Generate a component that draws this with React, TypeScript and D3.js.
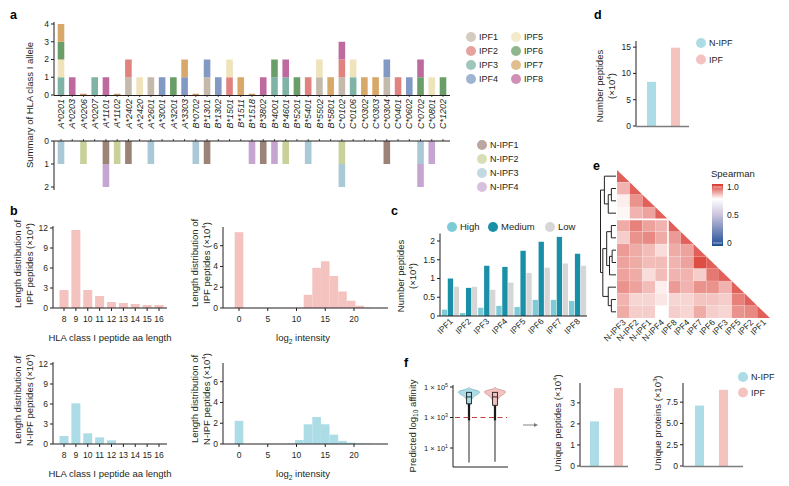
import * as React from "react";
import * as d3 from "d3";

const W = 789;
const H = 486;
const FONT = "'Liberation Sans', Arial, Helvetica, sans-serif";
const INK = "#231f20";

// ---------- panel a ----------
const alleles = [
  "A*0201", "A*0203", "A*0206", "A*0207", "A*1101", "A*1102", "A*2402", "A*2420", "A*2601",
  "A*3001", "A*3201", "A*3303", "B*0702", "B*1301", "B*1302", "B*1501", "B*1511", "B*1518",
  "B*3802", "B*4001", "B*4601", "B*5201", "B*5401", "B*5502", "B*5801", "C*0102", "C*0106",
  "C*0302", "C*0303", "C*0304", "C*0401", "C*0602", "C*0702", "C*0801", "C*1202",
];
const ipfNames = ["IPF1", "IPF2", "IPF3", "IPF4", "IPF5", "IPF6", "IPF7", "IPF8"];
const ipfColors = ["#c4baab", "#e0837e", "#7fb3a6", "#8299c4", "#efe3bb", "#6a9e68", "#d8a868", "#bf6a9e"];
const nipfNames = ["N-IPF1", "N-IPF2", "N-IPF3", "N-IPF4"];
const nipfColors = ["#9c8378", "#c8d199", "#a9c9d6", "#c6a6d0"];

// samples carrying each allele, stacked from the axis outward
const ipfHits: string[][] = [
  ["IPF3", "IPF5", "IPF6", "IPF7"], ["IPF8"], [], ["IPF3"], ["IPF8"], [], ["IPF1", "IPF2"],
  ["IPF5"], ["IPF1"], ["IPF4"], ["IPF6"], ["IPF4", "IPF7"], [], ["IPF1", "IPF4"], ["IPF4"],
  ["IPF2", "IPF5"], ["IPF7"], [], ["IPF8"], ["IPF3", "IPF6"], ["IPF3", "IPF8"], ["IPF6"],
  ["IPF2"], ["IPF1", "IPF5"], ["IPF7"], ["IPF1", "IPF2", "IPF8"], ["IPF3", "IPF5"], ["IPF7"],
  ["IPF7"], ["IPF1", "IPF4"], ["IPF2"], ["IPF4"], ["IPF6", "IPF8"], ["IPF5"], ["IPF6"],
];
const nipfHits: string[][] = [
  ["N-IPF3"], [], ["N-IPF2"], [], ["N-IPF1", "N-IPF4"], ["N-IPF2"], ["N-IPF1"], [], ["N-IPF3"],
  [], [], [], ["N-IPF3"], ["N-IPF1"], [], [], [], ["N-IPF4"], ["N-IPF1"], ["N-IPF4"], ["N-IPF2"],
  [], ["N-IPF3"], [], [], ["N-IPF2", "N-IPF3"], [], [], [], ["N-IPF1"], [], [], ["N-IPF3", "N-IPF4"],
  ["N-IPF4"], [],
];

// ---------- panel b ----------
const peptideLengths = ["8", "9", "10", "11", "12", "13", "14", "15", "16"];
const ipfLengthDist = [2.7, 11.7, 2.7, 1.8, 0.9, 0.75, 0.6, 0.45, 0.45];
const nipfLengthDist = [1.2, 6.1, 1.6, 1.0, 0.55, 0.04, 0.03, 0.02, 0.02];
const intensityBins = [0, 9, 10.5, 12, 13.5, 15, 16.5, 18, 19.5, 21, 22.5];
const ipfIntensity = [7.3, 0, 0.03, 1.27, 3.87, 4.5, 3.08, 1.59, 0.7, 0.22, 0.03];
const nipfIntensity = [2.23, 0.03, 0.39, 1.9, 2.6, 1.9, 0.9, 0.3, 0.13, 0.05, 0.03];
const IPF_PINK = "#f4c3bf";
const NIPF_BLUE = "#acdde6";

// ---------- panel c ----------
const affinityLevels = ["High", "Medium", "Low"];
const affinityColors = ["#7dcbd6", "#1a8fa8", "#d6d6d6"];
const highPeptides = [0.17, 0.08, 0.22, 0.27, 0.24, 0.43, 0.43, 0.4];
const mediumPeptides = [1.0, 0.75, 1.34, 1.31, 1.74, 1.98, 2.11, 1.66];
const lowPeptides = [0.78, 0.78, 0.7, 0.89, 1.15, 1.29, 1.4, 1.34];

// ---------- panel d / f ----------
const groups = ["N-IPF", "IPF"];
const groupColors = [NIPF_BLUE, IPF_PINK];
const totalPeptides = [8.4, 14.9];
const uniquePeptides = [2.12, 3.7];
const uniqueProteins = [7.1, 8.95];

// violin shape: log10 affinity vs relative width
const violinLogs = [4.95, 4.88, 4.8, 4.72, 4.62, 4.5, 4.4, 4.3, 4.2, 4.1, 4.0, 3.9, 3.8, 3.7, 3.6, 3.5, 3.3, 3.0];
const nipfViolin = [0.05, 0.12, 0.55, 0.95, 1.0, 0.72, 0.48, 0.34, 0.25, 0.18, 0.13, 0.1, 0.08, 0.06, 0.05, 0.04, 0.03, 0.02];
const ipfViolin = [0.06, 0.14, 0.6, 1.0, 0.95, 0.7, 0.5, 0.36, 0.27, 0.2, 0.15, 0.11, 0.09, 0.07, 0.05, 0.04, 0.03, 0.02];
// [min, q1, median, q3, end of the dense lower tail]
const nipfBox = [0.05, 3.9, 4.35, 4.65, 2.8];
const ipfBox = [0.1, 3.8, 4.35, 4.65, 2.8];

// ---------- panel e ----------
const heatLabels = ["N-IPF3", "N-IPF2", "N-IPF1", "N-IPF4", "IPF8", "IPF4", "IPF7", "IPF6", "IPF3", "IPF5", "IPF2", "IPF1"];
const heatLower: number[][] = [
  [],
  [0.85],
  [0.78, 0.89],
  [0.77, 0.85, 0.87],
  [0.86, 0.91, 0.87, 0.85],
  [0.82, 0.89, 0.9, 0.86, 0.88],
  [0.88, 0.86, 0.84, 0.8, 0.86, 0.87],
  [0.87, 0.86, 0.84, 0.84, 0.85, 0.87, 0.97],
  [0.87, 0.86, 0.8, 0.84, 0.85, 0.85, 0.82, 0.92],
  [0.89, 0.87, 0.84, 0.78, 0.88, 0.85, 0.89, 0.89, 0.85],
  [0.85, 0.81, 0.81, 0.79, 0.81, 0.81, 0.83, 0.83, 0.82, 0.91],
  [0.86, 0.82, 0.82, 0.76, 0.82, 0.81, 0.86, 0.82, 0.81, 0.89, 0.9],
];
type Dn = { name?: string; h: number; children?: Dn[] };
const dendrogram: Dn = {
  h: 1,
  children: [
    {
      h: 0.75,
      children: [
        { name: "N-IPF3", h: 0 },
        { h: 0.5, children: [{ h: 0.3, children: [{ name: "N-IPF2", h: 0 }, { name: "N-IPF1", h: 0 }] }, { name: "N-IPF4", h: 0 }] },
      ],
    },
    {
      h: 0.85,
      children: [
        {
          h: 0.6,
          children: [
            { h: 0.3, children: [{ name: "IPF8", h: 0 }, { name: "IPF4", h: 0 }] },
            { h: 0.42, children: [{ h: 0.25, children: [{ name: "IPF7", h: 0 }, { name: "IPF6", h: 0 }] }, { name: "IPF3", h: 0 }] },
          ],
        },
        { h: 0.5, children: [{ name: "IPF5", h: 0 }, { h: 0.3, children: [{ name: "IPF2", h: 0 }, { name: "IPF1", h: 0 }] }] },
      ],
    },
  ],
};
const spearmanStops = [0, 0.5, 0.76, 1];
const spearmanColors = ["#1f4e96", "#cbc3dd", "#ffffff", "#d8352a"];

// ---------- helpers ----------
function Label({ x, y, children }: { x: number; y: number; children: React.ReactNode }) {
  return (
    <text x={x} y={y} fontSize={12.5} fontWeight="bold" fill="#000">
      {children}
    </text>
  );
}

function VText({ x, y, children, size = 9.5 }: { x: number; y: number; children: React.ReactNode; size?: number }) {
  return (
    <text transform={`translate(${x},${y}) rotate(-90)`} textAnchor="middle" fontSize={size} fill={INK}>
      {children}
    </text>
  );
}

// "(×10" + superscript + ")"
function Power({ pre, exp, post }: { pre: string; exp: string; post: string }) {
  return (
    <>
      {pre}
      <tspan dy={-3.5} fontSize="65%">{exp}</tspan>
      <tspan dy={3.5}>{post}</tspan>
    </>
  );
}

function YAxis({
  x, scale, ticks, format = (v: number) => String(v), y0, y1,
}: {
  x: number; scale: d3.ScaleContinuousNumeric<number, number>; ticks: number[];
  format?: (v: number) => string; y0?: number; y1?: number;
}) {
  const [r0, r1] = scale.range();
  return (
    <g>
      <line x1={x} x2={x} y1={y0 ?? r0} y2={y1 ?? r1} stroke={INK} strokeWidth={1} />
      {ticks.map((t) => (
        <g key={t} transform={`translate(${x},${scale(t)})`}>
          <line x1={-3} x2={0} stroke={INK} />
          <text x={-5} dy="0.33em" textAnchor="end" fontSize={8.5} fill={INK}>
            {format(t)}
          </text>
        </g>
      ))}
    </g>
  );
}

function PairBars({
  x0, x1, centers, scale, values, ticks, format, axisX, barW = 9,
}: {
  x0: number; x1: number; centers: [number, number]; scale: d3.ScaleLinear<number, number>;
  values: number[]; ticks: number[]; format?: (v: number) => string; axisX: number; barW?: number;
}) {
  const xs = d3.scalePoint<string>().domain(groups).range(centers);
  const base = scale(0);
  return (
    <g>
      {groups.map((g, i) => (
        <rect key={g} x={(xs(g) ?? 0) - barW / 2} y={scale(values[i])} width={barW} height={base - scale(values[i])} fill={groupColors[i]} />
      ))}
      <YAxis x={axisX} scale={scale} ticks={ticks} format={format} y1={scale.range()[1] - 3} />
      <line x1={x0} x2={x1} y1={base + 0.5} y2={base + 0.5} stroke="#7d7d7d" strokeWidth={1.6} />
    </g>
  );
}

function GroupLegend({ x, y, gap }: { x: number; y: number; gap: number }) {
  return (
    <g>
      {groups.map((g, i) => (
        <g key={g} transform={`translate(${x},${y + i * gap})`}>
          <circle r={5} fill={groupColors[i]} />
          <text x={8} dy="0.35em" fontSize={9} fill={INK}>{g}</text>
        </g>
      ))}
    </g>
  );
}

// ---------- panel a ----------
function PanelA() {
  const x = d3.scalePoint<string>().domain(alleles).range([61, 443]);
  const yTop = d3.scaleLinear().domain([0, 4]).range([95, 24]);
  const yBot = d3.scaleLinear().domain([0, 2]).range([141, 187]);
  const bw = 6.6;
  const colorOf = (n: string) => {
    const i = ipfNames.indexOf(n);
    return i >= 0 ? ipfColors[i] : nipfColors[nipfNames.indexOf(n)];
  };
  return (
    <g>
      <Label x={10} y={19}>a</Label>
      {alleles.map((a, i) => {
        const cx = x(a) ?? 0;
        return (
          <g key={a}>
            {ipfHits[i].length === 0 && <rect x={cx - bw / 2} y={yTop(0) - 1.2} width={bw} height={1.2} fill="#c8955a" />}
            {ipfHits[i].map((n, k) => (
              <rect key={n} x={cx - bw / 2} y={yTop(k + 1)} width={bw} height={yTop(k) - yTop(k + 1)} fill={colorOf(n)} />
            ))}
            {nipfHits[i].map((n, k) => (
              <rect key={n} x={cx - bw / 2} y={yBot(k)} width={bw} height={yBot(k + 1) - yBot(k)} fill={colorOf(n)} />
            ))}
            <line x1={cx} x2={cx} y1={yTop(0)} y2={yTop(0) + 2} stroke={INK} strokeWidth={0.8} />
            <line x1={cx} x2={cx} y1={yBot(0)} y2={yBot(0) - 2} stroke={INK} strokeWidth={0.8} />
            <text transform={`translate(${cx + 3.2},${yTop(0) + 4}) rotate(-90)`} textAnchor="end" fontSize={9} fontStyle="italic" fill={INK}>
              {a}
            </text>
          </g>
        );
      })}
      <YAxis x={54} scale={yTop} ticks={[0, 1, 2, 3, 4]} y1={22} />
      <line x1={54} x2={450} y1={yTop(0) + 0.5} y2={yTop(0) + 0.5} stroke={INK} />
      <YAxis x={54} scale={yBot} ticks={[0, 1, 2]} y1={190} />
      <line x1={54} x2={450} y1={yBot(0)} y2={yBot(0)} stroke={INK} />
      <VText x={33} y={105}>Summary of HLA class I allele</VText>
      {ipfNames.map((n, i) => (
        <g key={n} transform={`translate(471,${37 + (i % 4) * 14})`}>
          <g transform={`translate(${Math.floor(i / 4) * 45},0)`}>
            <circle r={5} fill={ipfColors[i]} opacity={0.75} />
            <text x={8} dy="0.35em" fontSize={9} fill={INK}>{n}</text>
          </g>
        </g>
      ))}
      {nipfNames.map((n, i) => (
        <g key={n} transform={`translate(482,${145 + i * 14})`}>
          <circle r={5} fill={nipfColors[i]} opacity={0.7} />
          <text x={8} dy="0.35em" fontSize={9} fill={INK}>{n}</text>
        </g>
      ))}
    </g>
  );
}

// ---------- panel b ----------
function LengthHist({ top, values, color }: { top: number; values: number[]; color: string }) {
  const y = d3.scaleLinear().domain([0, 12]).range([top + 80, top]);
  const x = d3.scalePoint<string>().domain(peptideLengths).range([64, 159]);
  const base = y(0);
  return (
    <g>
      {peptideLengths.map((l, i) => (
        <rect key={l} x={(x(l) ?? 0) - 4.5} y={y(values[i])} width={9} height={base - y(values[i])} fill={color} />
      ))}
      <YAxis x={53} scale={y} ticks={[0, 3, 6, 9, 12]} y1={top - 2} />
      <line x1={53} x2={167} y1={base} y2={base} stroke={INK} />
      {peptideLengths.map((l) => (
        <g key={l} transform={`translate(${x(l)},${base})`}>
          <line y2={3} stroke={INK} />
          <text y={14} textAnchor="middle" fontSize={8.5} fill={INK}>{l}</text>
        </g>
      ))}
      <text x={110} y={base + 33} textAnchor="middle" fontSize={9.5} fill={INK}>HLA class I peptide aa length</text>
    </g>
  );
}

function IntensityHist({ top, values, color }: { top: number; values: number[]; color: string }) {
  const y = d3.scaleLinear().domain([0, 7.8]).range([top + 81, top]);
  const x = d3.scaleLinear().domain([0, 20]).range([239, 354]);
  const base = y(0);
  const half = 0.75;
  return (
    <g>
      {intensityBins.map((b, i) => (
        <rect key={b} x={x(b - half)} y={y(values[i])} width={x(b + half) - x(b - half)} height={base - y(values[i])} fill={color} />
      ))}
      <YAxis x={223} scale={y} ticks={[0, 2, 4, 6]} />
      <line x1={223} x2={388} y1={base} y2={base} stroke={INK} />
      {[0, 5, 10, 15, 20].map((t) => (
        <g key={t} transform={`translate(${x(t)},${base})`}>
          <line y2={3} stroke={INK} />
          <text y={14} textAnchor="middle" fontSize={8.5} fill={INK}>{t}</text>
        </g>
      ))}
      <text x={303} y={base + 33} textAnchor="middle" fontSize={9.5} fill={INK}>
        log<tspan dy={2.5} fontSize="70%">2</tspan><tspan dy={-2.5}> intensity</tspan>
      </text>
    </g>
  );
}

function PanelB() {
  return (
    <g>
      <Label x={10} y={215}>b</Label>
      <LengthHist top={228} values={ipfLengthDist} color={IPF_PINK} />
      <LengthHist top={364} values={nipfLengthDist} color={NIPF_BLUE} />
      <IntensityHist top={227} values={ipfIntensity} color={IPF_PINK} />
      <IntensityHist top={363} values={nipfIntensity} color={NIPF_BLUE} />
      <VText x={21} y={264}>Length distribution of</VText>
      <VText x={33} y={264}><Power pre="IPF peptides (×10" exp="4" post=")" /></VText>
      <VText x={21} y={400}>Length distribution of</VText>
      <VText x={33} y={400}><Power pre="N-IPF peptides (×10" exp="4" post=")" /></VText>
      <VText x={198} y={263}>Length distribution of</VText>
      <VText x={209.5} y={263}><Power pre="IPF peptides (×10" exp="4" post=")" /></VText>
      <VText x={198} y={399}>Length distribution of</VText>
      <VText x={209.5} y={399}><Power pre="N-IPF peptides (×10" exp="4" post=")" /></VText>
    </g>
  );
}

// ---------- panel c ----------
function PanelC() {
  const x0 = d3.scaleBand<string>().domain(ipfNames).range([441, 587]).paddingInner(0.02).paddingOuter(0.03);
  const x1 = d3.scaleBand<string>().domain(affinityLevels).range([0, x0.bandwidth()]).padding(0);
  const y = d3.scaleLinear().domain([0, 2.2]).range([316, 233.5]);
  const series = [highPeptides, mediumPeptides, lowPeptides];
  return (
    <g>
      <Label x={391} y={215}>c</Label>
      {ipfNames.map((n, i) => (
        <g key={n} transform={`translate(${x0(n)},0)`}>
          {affinityLevels.map((lv, k) => (
            <rect key={lv} x={(x1(lv) ?? 0) + 0.3} y={y(series[k][i])} width={x1.bandwidth() - 0.6} height={y(0) - y(series[k][i])} fill={affinityColors[k]} />
          ))}
          <text transform={`translate(${x0.bandwidth() / 2 + 3},${y(0) + 6}) rotate(-45)`} textAnchor="end" fontSize={8.5} fill={INK}>
            {n}
          </text>
        </g>
      ))}
      <YAxis x={440} scale={y} ticks={[0, 0.5, 1, 1.5, 2]} />
      <line x1={440} x2={587} y1={y(0)} y2={y(0)} stroke={INK} />
      {[452, 493, 550].map((cx, k) => (
        <g key={k} transform={`translate(${cx},227)`}>
          <circle r={5} fill={affinityColors[k]} />
          <text x={8} dy="0.35em" fontSize={9.5} fill={INK}>{affinityLevels[k]}</text>
        </g>
      ))}
      <VText x={404} y={276}>Number peptides</VText>
      <VText x={416} y={276}><Power pre="(×10" exp="4" post=")" /></VText>
    </g>
  );
}

// ---------- panel d ----------
function PanelD() {
  const y = d3.scaleLinear().domain([0, 15.6]).range([126, 44]);
  return (
    <g>
      <Label x={594} y={19}>d</Label>
      <PairBars x0={636} x1={689} centers={[651.5, 675.5]} scale={y} values={totalPeptides} ticks={[0, 5, 10, 15]} axisX={636} />
      <GroupLegend x={701} y={43} gap={16.5} />
      <VText x={602.5} y={86}>Number peptides</VText>
      <VText x={614.5} y={86}><Power pre="(×10" exp="4" post=")" /></VText>
    </g>
  );
}

// ---------- panel e ----------
function PanelE() {
  const x = d3.scaleBand<string>().domain(heatLabels).range([617, 770]);
  const y = d3.scaleBand<string>().domain(heatLabels).range([170, 318]);
  const color = d3.scaleLinear<string>().domain(spearmanStops).range(spearmanColors).interpolate(d3.interpolateRgb).clamp(true);
  const bw = x.bandwidth();
  const bh = y.bandwidth();

  const root = d3.hierarchy<Dn>(dendrogram);
  const hx = d3.scaleLinear().domain([0, 1]).range([616, 600.5]);
  const yOf = new Map<d3.HierarchyNode<Dn>, number>();
  root.eachAfter((n) => {
    if (!n.children) yOf.set(n, (y(n.data.name!) ?? 0) + bh / 2);
    else yOf.set(n, d3.mean(n.children, (c) => yOf.get(c)!)!);
  });
  const segs: string[] = [];
  root.each((n) => {
    if (!n.children) return;
    const ys = n.children.map((c) => yOf.get(c)!);
    const xn = hx(n.data.h);
    segs.push(`M${xn},${d3.min(ys)}V${d3.max(ys)}`);
    n.children.forEach((c) => segs.push(`M${xn},${yOf.get(c)}H${hx(c.data.h)}`));
  });

  const sep = x(heatLabels[4]) ?? 0;
  const sepY = y(heatLabels[4]) ?? 0;
  const cb = d3.scaleLinear().domain([0, 1]).range([243, 187]);

  return (
    <g>
      <Label x={593} y={170}>e</Label>
      {heatLabels.map((r, i) => {
        const rx = x(r) ?? 0;
        const ry = y(r) ?? 0;
        return (
          <g key={r}>
            {heatLower[i].map((v, j) => (
              <rect key={j} x={x(heatLabels[j])} y={ry} width={bw} height={bh} fill={color(v)} stroke="#ffffff" strokeOpacity={0.3} strokeWidth={0.4} />
            ))}
            <path d={`M${rx},${ry}L${rx},${ry + bh}L${rx + bw},${ry + bh}Z`} fill="#e2605a" />
          </g>
        );
      })}
      <line x1={617} x2={sep} y1={sepY} y2={sepY} stroke="#fff" strokeWidth={1.6} />
      <line x1={sep} x2={sep} y1={sepY} y2={318} stroke="#fff" strokeWidth={1.6} />
      <path d={segs.join("")} fill="none" stroke="#222" strokeWidth={1} />
      {heatLabels.map((c) => (
        <text key={c} transform={`translate(${(x(c) ?? 0) + bw / 2 + 3},${323}) rotate(-45)`} textAnchor="end" fontSize={8.5} fill={INK}>
          {c}
        </text>
      ))}
      <defs>
        <linearGradient id="spearman" x1="0" x2="0" y1="1" y2="0">
          {spearmanStops.map((s, i) => (
            <stop key={s} offset={s} stopColor={spearmanColors[i]} />
          ))}
        </linearGradient>
      </defs>
      <rect x={712} y={cb(1) - 3} width={11} height={cb(0) - cb(1) + 6} fill="url(#spearman)" />
      {[0, 1].map((t) => (
        <line key={t} x1={713} x2={722} y1={cb(t)} y2={cb(t)} stroke="#fff" strokeWidth={0.7} opacity={0.8} />
      ))}
      {[0, 0.5, 1].map((t) => (
        <text key={t} x={727} y={cb(t)} dy="0.35em" fontSize={8.5} fill={INK}>
          {t === 0 ? "0" : t.toFixed(1)}
        </text>
      ))}
      <text x={711} y={177} fontSize={9.5} fill={INK}>Spearman</text>
    </g>
  );
}

// ---------- panel f ----------
function Violin({ cx, widths, box, color, stroke, y }: {
  cx: number; widths: number[]; box: number[]; color: string; stroke: string; y: d3.ScaleLogarithmic<number, number>;
}) {
  const halfW = 11;
  const pts = violinLogs.map((l, i) => [widths[i] * halfW, y(Math.pow(10, l))] as [number, number]);
  const right = d3.line<[number, number]>().x((p) => cx + p[0]).y((p) => p[1]).curve(d3.curveBasis)(pts)!;
  const left = d3.line<[number, number]>().x((p) => cx - p[0]).y((p) => p[1]).curve(d3.curveBasis)([...pts].reverse())!;
  const yl = (l: number) => y(Math.pow(10, l));
  return (
    <g>
      <line x1={cx} x2={cx} y1={yl(box[4])} y2={yl(box[0])} stroke="#5a5a5a" strokeWidth={1.3} />
      <path d={right + "L" + left.slice(1) + "Z"} fill={color} stroke={stroke} strokeWidth={0.8} />
      <line x1={cx} x2={cx} y1={yl(box[1])} y2={yl(box[4])} stroke="#1a1a1a" strokeWidth={2.2} />
      <rect x={cx - 2.4} y={yl(box[3])} width={4.8} height={yl(box[1]) - yl(box[3])} fill={color} stroke="#1a1a1a" strokeWidth={0.9} />
      <line x1={cx - 2.4} x2={cx + 2.4} y1={yl(box[2])} y2={yl(box[2])} stroke="#1a1a1a" strokeWidth={0.9} />
    </g>
  );
}

function PanelF() {
  const yv = d3.scaleLog().domain([1e1, 1e5]).range([448, 387]);
  const yp = d3.scaleLinear().domain([0, 3.8]).range([466, 386]);
  const yq = d3.scaleLinear().domain([0, 9.4]).range([466, 386]);
  const exps = [5, 3, 1];
  return (
    <g>
      <Label x={404} y={367}>f</Label>
      <line x1={453} x2={453} y1={385} y2={467} stroke={INK} />
      <line x1={453} x2={508} y1={467} y2={467} stroke={INK} />
      {exps.map((e) => (
        <g key={e} transform={`translate(453,${yv(Math.pow(10, e))})`}>
          <line x1={-3} x2={0} stroke={INK} />
          <text x={-5} dy="0.35em" textAnchor="end" fontSize={7.5} fill={INK}>
            1 × 10<tspan dy={-3} fontSize="70%">{e}</tspan>
          </text>
        </g>
      ))}
      <Violin cx={469} widths={nipfViolin} box={nipfBox} color={NIPF_BLUE} stroke="#7fb6c2" y={yv} />
      <Violin cx={495} widths={ipfViolin} box={ipfBox} color={IPF_PINK} stroke="#c99893" y={yv} />
      <line x1={455} x2={507} y1={yv(1e3)} y2={yv(1e3)} stroke="#c0413c" strokeWidth={1} strokeDasharray="5,3.5" />
      <VText x={415.5} y={426}>
        Predicted log<tspan dy={2.5} fontSize="70%">10</tspan><tspan dy={-2.5}> affinity</tspan>
      </VText>
      <line x1={523} x2={536} y1={425} y2={425} stroke="#777" strokeWidth={0.9} />
      <path d="M538,425L534,423L534,427Z" fill="#777" />

      <PairBars x0={580} x1={628} centers={[594.5, 618.5]} scale={yp} values={uniquePeptides} ticks={[0, 1, 2, 3]} axisX={580} />
      <VText x={560.5} y={423}><Power pre="Unique peptides (×10" exp="4" post=")" /></VText>

      <PairBars x0={683} x1={743} centers={[699.5, 723.5]} scale={yq} values={uniqueProteins} ticks={[0, 2.5, 5, 7.5]}
        format={(v) => (v === 0 ? "0" : v.toFixed(1))} axisX={683} />
      <VText x={660.5} y={423}><Power pre="Unique proteins (×10" exp="3" post=")" /></VText>
      <GroupLegend x={743} y={377} gap={15.5} />
    </g>
  );
}

export default function App() {
  return (
    <svg
      width={W}
      height={H}
      viewBox={`0 0 ${W} ${H}`}
      style={{ position: "absolute", left: 0, top: 0, background: "#fff" }}
      fontFamily={FONT}
    >
      <rect width={W} height={H} fill="#fff" />
      <PanelA />
      <PanelB />
      <PanelC />
      <PanelD />
      <PanelE />
      <PanelF />
    </svg>
  );
}
